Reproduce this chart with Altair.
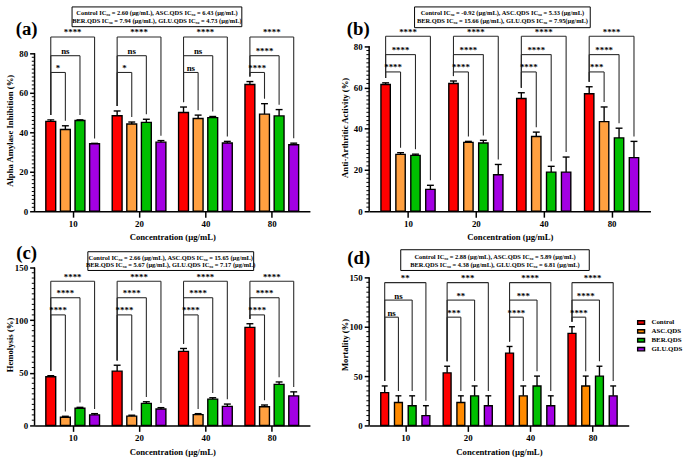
import altair as alt
import pandas as pd

FONT = "Liberation Serif"

groups = ["10", "20", "40", "80"]
series = ["Control", "ASC.QDS", "BER.QDS", "GLU.QDS"]
# horizontal offset of each series inside a concentration group (group units)
offsets = [-0.33, -0.11, 0.11, 0.33]

colors_light = ["#FF0000", "#FFA040", "#00C000", "#A300E3"]
colors_dark = ["#FF0000", "#FF8A00", "#00C000", "#A300E3"]

# ---- (a) alpha amylase inhibition ----
amy_mean = {
    "Control": [45.5, 48.4, 50.0, 64.2],
    "ASC.QDS": [41.4, 44.2, 47.0, 49.2],
    "BER.QDS": [46.0, 45.0, 47.4, 48.3],
    "GLU.QDS": [34.2, 35.0, 34.6, 33.7],
}
amy_err = {
    "Control": [0.8, 2.4, 2.8, 1.5],
    "ASC.QDS": [1.9, 1.0, 1.7, 5.3],
    "BER.QDS": [0.3, 1.6, 0.6, 3.2],
    "GLU.QDS": [0.2, 0.8, 0.8, 0.8],
}
amy_sig = {
    "ASC.QDS": ["*", "*", "ns", "****"],
    "BER.QDS": ["ns", "ns", "ns", "****"],
    "GLU.QDS": ["****", "****", "****", "****"],
}
amy_levels = [70.3, 78.8, 88.3]

# ---- (b) anti-arthritic activity ----
art_mean = {
    "Control": [61.5, 62.0, 54.7, 57.0],
    "ASC.QDS": [27.6, 33.4, 36.3, 43.5],
    "BER.QDS": [27.1, 33.1, 19.0, 35.6],
    "GLU.QDS": [10.6, 17.7, 19.0, 26.0],
}
art_err = {
    "Control": [0.8, 1.2, 2.8, 3.4],
    "ASC.QDS": [0.8, 0.5, 2.1, 7.1],
    "BER.QDS": [0.6, 1.3, 2.8, 4.7],
    "GLU.QDS": [2.0, 5.0, 7.3, 7.9],
}
art_sig = {
    "ASC.QDS": ["****", "****", "****", "***"],
    "BER.QDS": ["****", "****", "****", "****"],
    "GLU.QDS": ["****", "****", "****", "****"],
}
art_levels = [67.6, 76.0, 84.9]

# ---- (c) hemolysis ----
hem_mean = {
    "Control": [46.3, 51.6, 70.3, 93.1],
    "ASC.QDS": [7.8, 8.8, 10.3, 17.8],
    "BER.QDS": [16.3, 21.0, 25.0, 39.0],
    "GLU.QDS": [10.0, 15.6, 18.1, 28.1],
}
hem_err = {
    "Control": [1.0, 5.6, 2.8, 3.5],
    "ASC.QDS": [0.9, 0.9, 0.9, 1.6],
    "BER.QDS": [0.9, 1.5, 1.3, 2.3],
    "GLU.QDS": [1.2, 1.3, 2.2, 3.8],
}
hem_sig = {
    "ASC.QDS": ["****", "****", "****", "****"],
    "BER.QDS": ["****", "****", "****", "****"],
    "GLU.QDS": ["****", "****", "****", "****"],
}
hem_levels = [105.0, 121.3, 136.9]

# ---- (d) mortality ----
mor_mean = {
    "Control": [33.3, 53.3, 73.3, 93.3],
    "ASC.QDS": [23.3, 23.3, 30.0, 40.0],
    "BER.QDS": [20.0, 30.0, 40.0, 50.0],
    "GLU.QDS": [10.0, 20.0, 20.0, 30.0],
}
mor_err = {
    "Control": [6.7, 6.7, 6.7, 6.7],
    "ASC.QDS": [6.7, 6.7, 10.0, 10.0],
    "BER.QDS": [10.0, 10.0, 10.0, 10.0],
    "GLU.QDS": [10.0, 10.0, 10.0, 10.0],
}
mor_sig = {
    "ASC.QDS": ["ns", "***", "****", "****"],
    "BER.QDS": ["ns", "**", "***", "****"],
    "GLU.QDS": ["**", "***", "****", "****"],
}
mor_levels = [109.7, 127.0, 144.7]

ic50_a = ["Control IC\u2085\u2080 = 2.60 (\u00b5g/mL),  ASC.QDS IC\u2085\u2080 = 6.43 (\u00b5g/mL)",
          "BER.QDS IC\u2085\u2080 = 7.94 (\u00b5g/mL), GLU.QDS IC\u2085\u2080 = 4.73 (\u00b5g/mL)"]
ic50_b = ["Control IC\u2085\u2080 = -0.92 (\u00b5g/mL),  ASC.QDS IC\u2085\u2080 = 5.33 (\u00b5g/mL)",
          "BER.QDS IC\u2085\u2080 = 15.66 (\u00b5g/mL), GLU.QDS IC\u2085\u2080 = 7.95(\u00b5g/mL)"]
ic50_c = ["Control IC\u2085\u2080 = 2.66 (\u00b5g/mL),  ASC.QDS IC\u2085\u2080 = 15.65 (\u00b5g/mL)",
          "BER.QDS IC\u2085\u2080 = 5.67 (\u00b5g/mL), GLU.QDS IC\u2085\u2080 = 7.17 (\u00b5g/mL)"]
ic50_d = ["Control IC\u2085\u2080 = 2.88 (\u00b5g/mL), ASC.QDS IC\u2085\u2080 = 5.89 (\u00b5g/mL)",
          "BER.QDS IC\u2085\u2080 = 4.38 (\u00b5g/mL), GLU.QDS IC\u2085\u2080 = 6.81 (\u00b5g/mL)"]

x_title = "Concentration (\u00b5g/mL)"


def bar_frame(means, errs, colors):
    rows = []
    for si, s in enumerate(series):
        for gi, g in enumerate(groups):
            m, e = means[s][gi], errs[s][gi]
            rows.append(dict(series=s, group=g, pos=gi + offsets[si],
                             mean=m, top=m + e, color=colors[si]))
    return pd.DataFrame(rows)


def bracket_frame(means, errs, sig, levels, gap):
    rows = []
    for gi in range(len(groups)):
        xc = gi + offsets[0]
        yc = means["Control"][gi] + errs["Control"][gi] + gap
        for ti, s in enumerate(series[1:], start=1):
            xt = gi + offsets[ti]
            rows.append(dict(xc=xc, xt=xt, xm=(xc + xt) / 2, level=levels[ti - 1],
                             yc=yc, yt=means[s][gi] + errs[s][gi] + gap,
                             label=sig[s][gi]))
    return pd.DataFrame(rows)


def panel(p):
    xs = alt.Scale(domain=[-0.5, len(groups) - 0.5], nice=False, zero=False)
    ys = alt.Scale(domain=[0, p["ytop"]], nice=False)
    group_expr = "[" + ",".join(f"'{g}'" for g in groups) + "][datum.value]"

    # every layer carries the same axis definition so the layers merge cleanly
    xaxis = alt.Axis(values=list(range(len(groups))), labelExpr=group_expr,
                     tickSize=6, tickWidth=1.5, domainWidth=1.5, grid=False,
                     labelPadding=2, title=x_title, titleY=26,
                     titleBaseline="middle")
    yaxis = alt.Axis(values=p["major"], tickSize=5, tickWidth=1.5,
                     domain=False, grid=False, labelPadding=2,
                     title=p["ytitle"], titleX=p["tpos"][0], titleY=p["tpos"][1],
                     titleAngle=-90, titleBaseline="middle", titleAlign="center")

    def X(field):
        return alt.X(field, scale=xs, axis=xaxis)

    def Y(field):
        return alt.Y(field, scale=ys, axis=yaxis, stack=None)

    bars = bar_frame(p["mean"], p["err"], p["colors"])
    brk = bracket_frame(p["mean"], p["err"], p["sig"], p["levels"], p["gap"])

    if p["legend"]:
        color = alt.Color("series:N", scale=alt.Scale(domain=series, range=p["colors"]),
                          legend=alt.Legend(orient="none", legendX=271, legendY=72,
                                            title=None, padding=0, rowPadding=0,
                                            clipHeight=7.4,
                                            symbolType="M-1,-0.5H1V0.5H-1Z",
                                            symbolSize=49, symbolStrokeColor="black",
                                            symbolStrokeWidth=1.5, symbolOpacity=1,
                                            labelFont=FONT, labelFontWeight="bold",
                                            labelFontSize=7, labelOffset=6,
                                            labelColor="black"))
    else:
        color = alt.Color("color:N", scale=None)

    base = alt.Chart(bars)
    bar = base.mark_bar(width=p["barw"], stroke="black", strokeWidth=1.4,
                        orient="vertical", opacity=1).encode(
        x=X("pos:Q"), y=Y("mean:Q"), color=color)
    err = base.mark_rule(color="black", strokeWidth=1.4).encode(
        x=X("pos:Q"), y=Y("mean:Q"), y2="top:Q")
    cap = base.mark_tick(orient="horizontal", color="black", thickness=1.4,
                         size=p["cap"], opacity=1).encode(x=X("pos:Q"), y=Y("top:Q"))

    # y axis line (stops at the last labelled value) and its minor ticks
    yline = alt.Chart(pd.DataFrame({"lo": [0], "hi": [p["major"][-1]]})).mark_rule(
        color="black", strokeWidth=1.5).encode(x=alt.value(0), y=Y("lo:Q"), y2="hi:Q")
    minor = alt.Chart(pd.DataFrame({"t": p["minor"]})).mark_rule(
        color="black", strokeWidth=1).encode(x=alt.value(-2.8), x2=alt.value(0), y=Y("t:Q"))

    bb = alt.Chart(brk)
    rule_kw = dict(color="#2a2a2a", strokeWidth=1.1)
    left_leg = bb.mark_rule(**rule_kw).encode(x=X("xc:Q"), y=Y("yc:Q"), y2="level:Q")
    top_bar = bb.mark_rule(**rule_kw).encode(x=X("xc:Q"), x2="xt:Q", y=Y("level:Q"))
    right_leg = bb.mark_rule(**rule_kw).encode(x=X("xt:Q"), y=Y("yt:Q"), y2="level:Q")
    stars = bb.mark_text(font=FONT, fontWeight="bold", fontSize=9, baseline="middle",
                         dy=-4.5, color="black").encode(
        x=X("xm:Q"), y=Y("level:Q"), text="label:N")

    one = alt.Chart(pd.DataFrame({"k": [0]}))
    bx = p["box"]
    box = one.mark_rect(fill="white", stroke="black", strokeWidth=1).encode(
        x=alt.value(bx[0]), x2=alt.value(bx[1]), y=alt.value(bx[2]), y2=alt.value(bx[3]))
    cx = (bx[0] + bx[1]) / 2
    line1 = one.mark_text(font=FONT, fontWeight="bold", fontSize=6.5, color="black",
                          baseline="middle").encode(
        x=alt.value(cx), y=alt.value(p["lines"][0]), text=alt.value(p["ic50"][0]))
    line2 = one.mark_text(font=FONT, fontWeight="bold", fontSize=6.5, color="black",
                          baseline="middle").encode(
        x=alt.value(cx), y=alt.value(p["lines"][1]), text=alt.value(p["ic50"][1]))
    tag = one.mark_text(font=FONT, fontWeight="bold", fontSize=19, color="black",
                        baseline="middle").encode(
        x=alt.value(p["tag_pos"][0]), y=alt.value(p["tag_pos"][1]), text=alt.value(p["tag"]))

    return alt.layer(bar, err, cap, yline, minor, left_leg, top_bar, right_leg, stars,
                     box, line1, line2, tag).properties(width=p["width"], height=p["height"])


ticks80 = [0, 20, 40, 60, 80]
minor80 = [v for v in range(0, 81, 2) if v % 20]
ticks150 = [0, 50, 100, 150]
minor150 = [v for v in range(0, 151, 5) if v % 50]

pa = panel(dict(mean=amy_mean, err=amy_err, sig=amy_sig, levels=amy_levels, colors=colors_light,
                width=279, height=180, ytop=90, major=ticks80, minor=minor80,
                barw=10, cap=7, gap=2.5, ytitle="Alpha Amylase Inhibition (%)", tpos=(-25, 98),
                box=(38, 210, -27, -7), lines=(-21, -13), ic50=ic50_a, tag="(a)", tag_pos=(-8, -5),
                legend=False))
pb = panel(dict(mean=art_mean, err=art_err, sig=art_sig, levels=art_levels, colors=colors_light,
                width=285, height=180, ytop=86.2, major=ticks80, minor=minor80,
                barw=9.5, cap=7, gap=2.4, ytitle="Anti-Arthritic Activity (%)", tpos=(-25, 95),
                box=(46, 224, -27, -6), lines=(-21, -13), ic50=ic50_b, tag="(b)", tag_pos=(-11, -5),
                legend=False))
pc = panel(dict(mean=hem_mean, err=hem_err, sig=hem_sig, levels=hem_levels, colors=colors_light,
                width=279, height=180, ytop=168.75, major=ticks150, minor=minor150,
                barw=10, cap=7, gap=4.5, ytitle="Hemolysis (%)", tpos=(-25, 98),
                box=(54, 222, 4, 23), lines=(10.5, 17.5), ic50=ic50_c, tag="(c)", tag_pos=(-8, 5.5),
                legend=False))
pdd = panel(dict(mean=mor_mean, err=mor_err, sig=mor_sig, levels=mor_levels, colors=colors_dark,
                 width=263, height=180, ytop=180, major=ticks150, minor=minor150,
                 barw=8, cap=6, gap=5, ytitle="Mortality (%)", tpos=(-25, 98),
                 box=(32, 223, 2, 23), lines=(9, 17), ic50=ic50_d, tag="(d)", tag_pos=(-10.5, 10.5),
                 legend=True))

chart = alt.concat(pa, pb, pc, pdd, columns=2, spacing={"row": 37, "column": 60},
                   bounds="flush").resolve_scale(
    color="independent").resolve_legend(color="independent").properties(
    padding={"left": 6, "top": 3, "right": 2, "bottom": 2}
).configure_view(stroke=None).configure_axis(
    labelFont=FONT, titleFont=FONT, labelFontWeight="bold", titleFontWeight="bold",
    labelFontSize=9, titleFontSize=8.8, labelColor="black", titleColor="black",
    domainColor="black", tickColor="black"
)

chart.save("out.html", embed_options={"renderer": "svg", "actions": False})
